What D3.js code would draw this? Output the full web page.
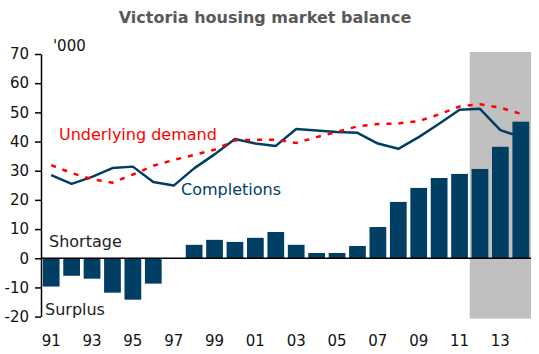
<!DOCTYPE html>
<html>
<head>
<meta charset="utf-8">
<script src="https://cdn.jsdelivr.net/npm/d3@7"></script>
<style>
  body { margin: 0; background: #fff; }
  text { font-family: "DejaVu Sans", Verdana, sans-serif; }
</style>
</head>
<body>
<div id="chart"></div>
<script>
// Data (thousands of dwellings)
const years = d3.range(1991, 2015);
const balance = [-9.7, -6.0, -7.0, -11.8, -14.2, -8.7, 0, 4.6, 6.3, 5.6, 7.0, 9.0,
  4.6, 1.8, 1.8, 4.2, 10.7, 19.3, 24.1, 27.5, 28.9, 30.6, 38.2, 46.8];
const completions = [28.5, 25.5, 27.9, 30.9, 31.4, 26.1, 24.9, 30.8, 35.6, 40.9, 39.3, 38.5,
  44.3, 43.8, 43.3, 43.0, 39.3, 37.5, 41.5, 46.1, 50.9, 51.2, 43.9, 41.6];
const demand = [31.9, 29.2, 27.1, 25.9, 28.7, 31.7, 33.7, 35.4, 37.2, 40.4, 40.6, 40.6,
  39.5, 41.5, 43.3, 45.2, 46.0, 46.2, 47.0, 49.3, 52.0, 52.8, 51.6, 49.5];
const yTicks = [-20, -10, 0, 10, 20, 30, 40, 50, 60, 70];
const xTickYears = d3.range(1991, 2015, 2);
const forecastYears = [2012, 2013, 2014];

const W = 539, H = 354;
const plotL = 41, plotR = 531, plotT = 54, plotB = 316.6;
const navy = "#003f63";

const svg = d3.select("#chart").append("svg")
  .attr("width", W).attr("height", H);

const x = d3.scaleBand().domain(years).range([plotL, plotR]).paddingInner(0.18).paddingOuter(0.09);
const y = d3.scaleLinear().domain([-20, 70]).range([plotB, plotT]);
const cx = d => x(d) + x.bandwidth() / 2;

// Forecast shading
const shadeX = x(forecastYears[0]) - x.step() * x.paddingInner() / 2;
svg.append("rect")
  .attr("x", shadeX)
  .attr("y", y(70) - 2)
  .attr("width", plotR - shadeX)
  .attr("height", y(-20) - y(70) + 4)
  .attr("fill", "#c0c0c0");

// Lines
const line = arr => d3.line().x((d, i) => cx(years[i])).y(d => y(d))(arr);
svg.append("path").attr("d", line(completions))
  .attr("fill", "none").attr("stroke", navy).attr("stroke-width", 2.5)
  .attr("stroke-linejoin", "round");
svg.append("path").attr("d", line(demand))
  .attr("fill", "none").attr("stroke", "#ff0000").attr("stroke-width", 2.5)
  .attr("stroke-dasharray", "5,7");

// Bars
svg.selectAll(".bar").data(years.map((yr, i) => ({ yr, v: balance[i] })))
  .join("rect")
  .attr("class", "bar")
  .attr("x", d => x(d.yr))
  .attr("width", x.bandwidth())
  .attr("y", d => y(Math.max(0, d.v)))
  .attr("height", d => Math.abs(y(d.v) - y(0)))
  .attr("fill", navy);

// Y axis (plain hyphen for negatives)
const yAxis = svg.append("g").attr("transform", `translate(${plotL},0)`)
  .call(d3.axisLeft(y).tickValues(yTicks).tickFormat(d => String(d))
    .tickSize(6).tickPadding(6).tickSizeOuter(0));
yAxis.select(".domain").attr("stroke", "#000").attr("stroke-width", 1.5);
yAxis.selectAll("line").attr("stroke", "#000").attr("stroke-width", 1.5);
yAxis.selectAll("text").attr("font-size", 15).attr("fill", "#111")
  .attr("font-family", "DejaVu Sans, Verdana, sans-serif");

// Zero line
svg.append("line")
  .attr("x1", plotL).attr("x2", plotR)
  .attr("y1", y(0)).attr("y2", y(0))
  .attr("stroke", "#000").attr("stroke-width", 1.5);

// X tick labels
svg.selectAll(".xl").data(xTickYears).join("text")
  .attr("class", "xl")
  .attr("x", d => cx(d))
  .attr("y", 345.5)
  .attr("text-anchor", "middle")
  .attr("font-size", 15)
  .attr("fill", "#111")
  .text(d => String(d).slice(2));

// Title
svg.append("text").attr("x", 265).attr("y", 23)
  .attr("text-anchor", "middle").attr("font-size", 16).attr("font-weight", "bold")
  .attr("fill", "#595959").text("Victoria housing market balance");

// Annotations
svg.append("text").attr("x", 53).attr("y", 51).attr("font-size", 15)
  .attr("fill", "#111").text("'000");
svg.append("text").attr("x", 59).attr("y", 140).attr("font-size", 16)
  .attr("fill", "#ff0000").text("Underlying demand");
svg.append("text").attr("x", 181).attr("y", 195).attr("font-size", 16)
  .attr("fill", navy).text("Completions");
svg.append("text").attr("x", 49).attr("y", 247).attr("font-size", 16)
  .attr("fill", "#222").text("Shortage");
svg.append("text").attr("x", 45).attr("y", 315).attr("font-size", 16)
  .attr("fill", "#222").text("Surplus");
</script>
</body>
</html>
